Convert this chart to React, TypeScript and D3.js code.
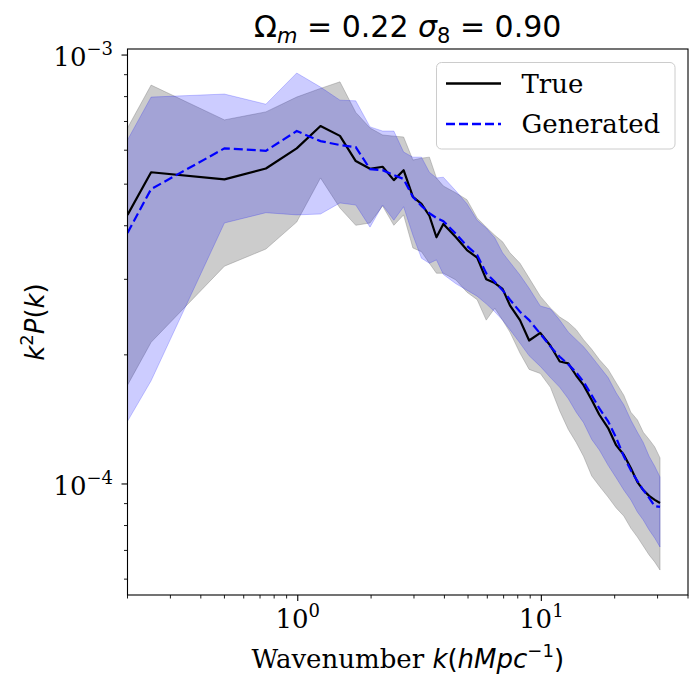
import React from 'react';
import * as d3 from 'd3';

// wavenumber bins k (h/Mpc)
const kBins = [
  0.2, 0.25, 0.5, 0.74, 0.99, 1.24, 1.49, 1.73, 1.98, 2.23, 2.48, 2.72, 2.97, 3.22, 3.47, 3.71,
  3.96, 4.46, 4.95, 5.45, 5.94, 6.44, 6.93, 7.43, 8.17, 8.91, 9.9, 10.9, 11.9, 12.9, 13.9, 14.9,
  16.1, 17.3, 18.8, 20.3, 21.8, 23.3, 24.8, 26.2, 27.7, 29.2, 30.7,
];

// k^2 P(k) in units of 1e-4
const trueMean = [
  4.24, 5.33, 5.13, 5.44, 6.06, 6.83, 6.48, 5.66, 5.43, 5.49, 5.11, 5.39, 4.67, 4.5, 4.22, 3.76,
  4.04, 3.76, 3.51, 3.37, 3.0, 2.94, 2.85, 2.61, 2.41, 2.16, 2.25, 2.1, 1.93, 1.91, 1.79, 1.7,
  1.57, 1.45, 1.35, 1.23, 1.17, 1.09, 1.01, 0.968, 0.938, 0.918, 0.903,
];
const trueLo = [
  1.7, 2.14, 3.22, 3.53, 4.08, 5.17, 4.4, 4.01, 4.06, 4.45, 4.01, 4.24, 3.55, 3.48, 3.27, 3.1,
  3.1, 2.99, 2.8, 2.69, 2.41, 2.57, 2.41, 2.26, 2.02, 1.85, 1.81, 1.68, 1.48, 1.34, 1.25, 1.16,
  1.044, 0.989, 0.932, 0.879, 0.842, 0.789, 0.752, 0.717, 0.683, 0.658, 0.63,
];
const trueHi = [
  6.76, 8.51, 7.06, 7.37, 7.98, 8.36, 8.66, 7.35, 6.76, 6.51, 6.47, 6.44, 5.69, 5.75, 5.78, 5.17,
  4.95, 4.77, 4.6, 4.17, 3.97, 3.8, 3.67, 3.46, 3.27, 3.02, 2.74, 2.57, 2.45, 2.38, 2.29, 2.17,
  2.06, 1.95, 1.85, 1.72, 1.61, 1.47, 1.41, 1.32, 1.27, 1.22, 1.15,
];
const genMean = [
  3.85, 4.87, 6.06, 5.98, 6.65, 6.3, 6.17, 6.1, 5.42, 5.39, 5.25, 5.14, 4.67, 4.45, 4.28, 4.17,
  4.1, 3.83, 3.59, 3.42, 3.1, 2.96, 2.83, 2.69, 2.52, 2.41, 2.24, 2.09, 1.98, 1.9, 1.82, 1.73,
  1.61, 1.5, 1.4, 1.28, 1.16, 1.076, 1.016, 0.968, 0.928, 0.888, 0.884,
];
const genLo = [
  1.4, 1.74, 4.06, 4.29, 4.24, 4.26, 4.52, 4.47, 3.97, 4.47, 4.12, 4.43, 3.8, 3.36, 3.27, 3.33,
  3.08, 2.93, 2.83, 2.74, 2.63, 2.52, 2.41, 2.29, 2.13, 1.99, 1.88, 1.77, 1.68, 1.58, 1.47, 1.39,
  1.27, 1.2, 1.105, 1.033, 0.968, 0.918, 0.86, 0.824, 0.781, 0.748, 0.713,
];
const genHi = [
  6.34, 7.98, 8.11, 7.68, 9.08, 8.42, 7.85, 7.82, 6.8, 6.65, 6.65, 5.94, 5.78, 5.78, 5.33, 5.17,
  5.19, 4.82, 4.5, 4.12, 3.95, 3.75, 3.46, 3.29, 3.07, 2.86, 2.6, 2.56, 2.41, 2.26, 2.17, 2.09,
  1.98, 1.88, 1.77, 1.63, 1.53, 1.41, 1.32, 1.25, 1.16, 1.1, 1.038,
];
const unit = 1e-4;

const xMajor = [1, 10];
const xMajorExp = ['0', '1'];
const xMinor = [0.2, 0.3, 0.4, 0.5, 0.6, 0.7, 0.8, 0.9, 2, 3, 4, 5, 6, 7, 8, 9, 20, 30, 40];
const yMajor = [1e-4, 1e-3];
const yMajorExp = ['\u22124', '\u22123'];
const yMinor = [6e-5, 7e-5, 8e-5, 9e-5, 2e-4, 3e-4, 4e-4, 5e-4, 6e-4, 7e-4, 8e-4, 9e-4];

const legendItems = [
  { label: 'True', color: '#000', dash: 'none' },
  { label: 'Generated', color: 'blue', dash: '9,4' },
];

const W = 700;
const H = 691;
const plot = { left: 127.5, right: 688, top: 49, bottom: 595 };
const serif = '"DejaVu Serif", serif';
const sans = '"DejaVu Sans", sans-serif';

const App: React.FC = () => {
  const x = d3.scaleLog().domain([0.2, 40]).range([plot.left, plot.right]);
  const y = d3.scaleLog().domain([5.51e-5, 1.033e-3]).range([plot.bottom, plot.top]);
  const idx = kBins.map((_, i) => i);

  const band = (lo: number[], hi: number[]) =>
    d3.area<number>()
      .x(i => x(kBins[i]))
      .y0(i => y(lo[i] * unit))
      .y1(i => y(hi[i] * unit))(idx) || '';
  const line = (v: number[]) =>
    d3.line<number>()
      .x(i => x(kBins[i]))
      .y(i => y(v[i] * unit))(idx) || '';

  const cx = (plot.left + plot.right) / 2;
  const cy = (plot.top + plot.bottom) / 2;

  return (
    <svg width={W} height={H} style={{ position: 'absolute', left: 0, top: 0 }}>
      <rect width={W} height={H} fill="#fff" />
      <defs>
        <clipPath id="plotArea">
          <rect x={plot.left} y={plot.top} width={plot.right - plot.left} height={plot.bottom - plot.top} />
        </clipPath>
      </defs>

      <g clipPath="url(#plotArea)">
        <path d={band(trueLo, trueHi)} fill="#808080" fillOpacity={0.4} stroke="#808080" strokeOpacity={0.4} strokeWidth={1} />
        <path d={band(genLo, genHi)} fill="blue" fillOpacity={0.2} stroke="blue" strokeOpacity={0.2} strokeWidth={1} />
        <path d={line(trueMean)} fill="none" stroke="#000" strokeWidth={2.2} strokeLinejoin="round" />
        <path d={line(genMean)} fill="none" stroke="blue" strokeWidth={2.2} strokeDasharray="9,4" />
      </g>

      {/* spines */}
      <rect x={plot.left} y={plot.top} width={plot.right - plot.left} height={plot.bottom - plot.top}
        fill="none" stroke="#000" strokeWidth={1.1} />

      {/* x ticks */}
      {xMinor.map(t => (
        <line key={'xm' + t} x1={x(t)} x2={x(t)} y1={plot.bottom} y2={plot.bottom + 3.5} stroke="#000" strokeWidth={0.9} />
      ))}
      {xMajor.map((t, i) => (
        <g key={'xM' + t}>
          <line x1={x(t)} x2={x(t)} y1={plot.bottom} y2={plot.bottom + 6} stroke="#000" strokeWidth={1.1} />
          <text x={x(t)} y={628} textAnchor="middle" fontFamily={serif} fontSize={26} fill="#000">
            10<tspan fontSize={18} dy={-11}>{xMajorExp[i]}</tspan>
          </text>
        </g>
      ))}

      {/* y ticks */}
      {yMinor.map(t => (
        <line key={'ym' + t} x1={plot.left - 3.5} x2={plot.left} y1={y(t)} y2={y(t)} stroke="#000" strokeWidth={0.9} />
      ))}
      {yMajor.map((t, i) => (
        <g key={'yM' + t}>
          <line x1={plot.left - 6} x2={plot.left} y1={y(t)} y2={y(t)} stroke="#000" strokeWidth={1.1} />
          <text x={113} y={y(t) + 11} textAnchor="end" fontFamily={serif} fontSize={26} fill="#000">
            10<tspan fontSize={18} dy={-11}>{yMajorExp[i]}</tspan>
          </text>
        </g>
      ))}

      {/* title */}
      <text x={cx} y={37} textAnchor="middle" fontFamily={sans} fontSize={30} fill="#000">
        <tspan>Ω</tspan>
        <tspan fontStyle="italic" fontSize={21} dy={6}>m</tspan>
        <tspan dy={-6}> = 0.22 </tspan>
        <tspan fontStyle="italic">σ</tspan>
        <tspan fontSize={21} dy={6}>8</tspan>
        <tspan dy={-6}> = 0.90</tspan>
      </text>

      {/* x label */}
      <text x={cx} y={668} textAnchor="middle" fontSize={26} fill="#000">
        <tspan fontFamily={serif}>Wavenumber </tspan>
        <tspan fontFamily={sans} fontStyle="italic">k</tspan>
        <tspan fontFamily={sans}>(</tspan>
        <tspan fontFamily={sans} fontStyle="italic">hMpc</tspan>
        <tspan fontFamily={sans} fontSize={18} dy={-11}>{'\u22121'}</tspan>
        <tspan fontFamily={sans} dy={11}>)</tspan>
      </text>

      {/* y label */}
      <text transform={`translate(44,${cy}) rotate(-90)`} textAnchor="middle" fontFamily={sans} fontSize={26} fill="#000">
        <tspan fontStyle="italic">k</tspan>
        <tspan fontSize={18} dy={-11}>2</tspan>
        <tspan fontStyle="italic" dy={11}>P</tspan>
        <tspan>(</tspan>
        <tspan fontStyle="italic">k</tspan>
        <tspan>)</tspan>
      </text>

      {/* legend */}
      <g>
        <rect x={436.5} y={62.5} width={238.5} height={86.5} rx={5} fill="#fff" fillOpacity={0.8} stroke="#cccccc" strokeWidth={1} />
        {legendItems.map((d, i) => (
          <g key={d.label} transform={`translate(0,${83.5 + i * 40.5})`}>
            <line x1={446} x2={501} y1={0} y2={0} stroke={d.color} strokeWidth={2.4} strokeDasharray={d.dash} />
            <text x={521.5} y={9} fontFamily={serif} fontSize={26} fill="#000">{d.label}</text>
          </g>
        ))}
      </g>
    </svg>
  );
};

export default App;
